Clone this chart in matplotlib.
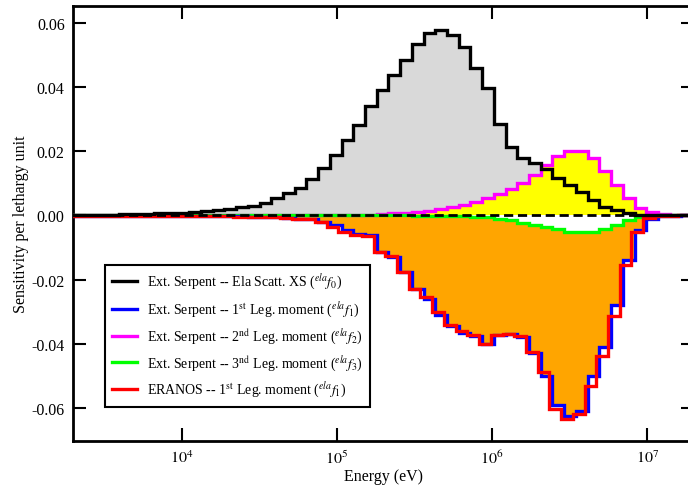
import numpy as np
import matplotlib
matplotlib.use('Agg')
import matplotlib.pyplot as plt
from matplotlib.ticker import NullLocator

plt.rcParams['font.family'] = ['Liberation Serif', 'DejaVu Serif']
plt.rcParams['mathtext.fontset'] = 'stix'

# group structure (equal lethargy groups, ~13.25 per decade)
edges = 10 ** (4.729 + np.arange(-19, 36) * 0.07548)
eranos_edges = edges * 10 ** (-0.02)

# sensitivities per lethargy unit, one value per group (low -> high energy)
f0_serpent = [0.0002, 0.0002, 0.0003, 0.0003, 0.0004, 0.0005, 0.0006, 0.0007, 0.0008, 0.0009,
              0.0011, 0.0013, 0.0017, 0.0020, 0.0025, 0.0030, 0.0040, 0.0053, 0.0070, 0.0085,
              0.0113, 0.0147, 0.0187, 0.0235, 0.0282, 0.0342, 0.0390, 0.0437, 0.0485, 0.0535,
              0.0568, 0.0579, 0.0563, 0.0524, 0.0459, 0.0397, 0.0286, 0.0215, 0.0178, 0.0164,
              0.0145, 0.0116, 0.0095, 0.0072, 0.0048, 0.0027, 0.0017, 0.0009, 0.0003, 0.0001,
              0.0, 0.0, 0.0, 0.0]
f1_serpent = [-0.0001, -0.0001, -0.0001, -0.0001, -0.0001, -0.0001, -0.0001, -0.0001, -0.0002, -0.0002,
              -0.0002, -0.0002, -0.0003, -0.0003, -0.0003, -0.0004, -0.0005, -0.0006, -0.0008, -0.0010,
              -0.0012, -0.0020, -0.0030, -0.0045, -0.0058, -0.0062, -0.0113, -0.0130, -0.0176, -0.0228,
              -0.0260, -0.0310, -0.0345, -0.0365, -0.0375, -0.0400, -0.0372, -0.0369, -0.0380, -0.0430,
              -0.0500, -0.0590, -0.0625, -0.0610, -0.0500, -0.0410, -0.0280, -0.0140, -0.0045, -0.0010,
              -0.0003, -0.0001, 0.0, 0.0]
f2_serpent = [0.0, 0.0, 0.0, 0.0, 0.0, 0.0, 0.0, 0.0, 0.0, 0.0,
              0.0, 0.0, 0.0, 0.0, 0.0, 0.0001, 0.0001, 0.0001, 0.0001, 0.0001,
              0.0001, 0.0002, 0.0002, 0.0002, 0.0003, 0.0003, 0.0005, 0.0007, 0.0009, 0.0011,
              0.0014, 0.0019, 0.0025, 0.0032, 0.0042, 0.0056, 0.0068, 0.0083, 0.0100, 0.0127,
              0.0157, 0.0185, 0.0201, 0.0201, 0.0178, 0.0138, 0.0095, 0.0053, 0.0022, 0.0010,
              0.0005, 0.0002, 0.0001, 0.0]
f3_serpent = [0.0, 0.0, 0.0, 0.0, 0.0, 0.0, 0.0, 0.0, 0.0, 0.0,
              0.0, 0.0, 0.0, 0.0, 0.0, 0.0, 0.0, 0.0, 0.0, 0.0,
              0.0, 0.0, 0.0, 0.0, 0.0, 0.0, 0.0, 0.0, 0.0, -0.0001,
              -0.0001, -0.0001, -0.0001, -0.0002, -0.0004, -0.0006, -0.0010, -0.0015, -0.0022, -0.0030,
              -0.0037, -0.0043, -0.0052, -0.0053, -0.0050, -0.0041, -0.0030, -0.0015, -0.0005, -0.0001,
              0.0, 0.0, 0.0, 0.0]
f1_eranos = [-0.0001, -0.0001, -0.0001, -0.0001, -0.0001, -0.0001, -0.0001, -0.0002, -0.0002, -0.0002,
             -0.0002, -0.0003, -0.0003, -0.0003, -0.0004, -0.0004, -0.0005, -0.0006, -0.0008, -0.0010,
             -0.0012, -0.0020, -0.0035, -0.0051, -0.0060, -0.0065, -0.0113, -0.0125, -0.0176, -0.0228,
             -0.0255, -0.0300, -0.0340, -0.0360, -0.0372, -0.0400, -0.0374, -0.0369, -0.0375, -0.0426,
             -0.0488, -0.0603, -0.0634, -0.0620, -0.0530, -0.0437, -0.0312, -0.0155, -0.0051, -0.0009,
             -0.0002, -0.0001, 0.0, 0.0]

xticks = [1e4, 1e5, 1e6, 1e7]
xticklabels = [r'$10^{4}$', r'$10^{5}$', r'$10^{6}$', r'$10^{7}$']
yticks = [-0.06, -0.04, -0.02, 0.0, 0.02, 0.04, 0.06]
yticklabels = ['-0.06', '-0.04', '-0.02', '0.00', '0.02', '0.04', '0.06']

labels = [r'Ext. Serpent -- Ela Scatt. XS ($^{ela}f_{0}$)',
          r'Ext. Serpent -- 1$^{\rm st}$ Leg. moment ($^{ela}f_{1}$)',
          r'Ext. Serpent -- 2$^{\rm nd}$ Leg. moment ($^{ela}f_{2}$)',
          r'Ext. Serpent -- 3$^{\rm nd}$ Leg. moment ($^{ela}f_{3}$)',
          r'ERANOS -- 1$^{\rm st}$ Leg. moment ($^{ela}f_{1}$)']

fig = plt.figure(figsize=(6.88, 4.89), dpi=100)
ax = fig.add_axes([73 / 688, 47 / 489, 621 / 688, 435 / 489])
ax.set_xscale('log')

lw = 2.4
# filled areas
ax.stairs(f0_serpent, edges, fill=True, color='#d9d9d9', zorder=1)
ax.stairs(f2_serpent, edges, fill=True, color='#ffff00', zorder=2)
ax.stairs(f1_serpent, edges, fill=True, color='#ffa500', zorder=1)
ax.stairs(f3_serpent, edges, fill=True, color='white', zorder=2)

# step lines
ax.stairs(f2_serpent, edges, color='#ff00ff', lw=lw, zorder=3, baseline=None)
ax.stairs(f3_serpent, edges, color='#00ff00', lw=lw, zorder=3, baseline=None)
ax.stairs(f1_serpent, edges, color='#0000ff', lw=lw, zorder=3, baseline=None)
ax.stairs(f1_eranos, eranos_edges, color='#ff0000', lw=lw, zorder=4, baseline=None)
ax.stairs(f0_serpent, edges, color='black', lw=lw, zorder=5, baseline=None)
ax.axhline(0, color='black', lw=2, ls=(0, (3.3, 1.7)), zorder=6)

handles = []
for c in ['black', '#0000ff', '#ff00ff', '#00ff00', '#ff0000']:
    h, = ax.plot([], [], color=c, lw=lw)
    handles.append(h)
leg = ax.legend(handles, labels, loc='lower left', bbox_to_anchor=(0.051, 0.078),
                borderaxespad=0, fontsize=10, frameon=True, fancybox=False,
                edgecolor='black', framealpha=1, handlelength=1.8, labelspacing=0.52,
                borderpad=0.5, handletextpad=0.75)
leg.get_frame().set_linewidth(1.5)

ax.set_xlim(2e3, 2e7)
ax.set_ylim(-0.0703, 0.0653)
ax.set_xticks(xticks)
ax.set_xticklabels(xticklabels)
ax.xaxis.set_minor_locator(NullLocator())
ax.set_yticks(yticks)
ax.set_yticklabels(yticklabels)
ax.tick_params(direction='in', length=9.5, width=1.5, right=True, top=True,
               labelsize=11.5, pad=6)

for s in ax.spines.values():
    s.set_linewidth(2)

ax.set_xlabel('Energy (eV)', fontsize=11.5, labelpad=1)
ax.set_ylabel('Sensitivity per lethargy unit', fontsize=11.5, labelpad=2)

fig.savefig('out.png', dpi=100)
